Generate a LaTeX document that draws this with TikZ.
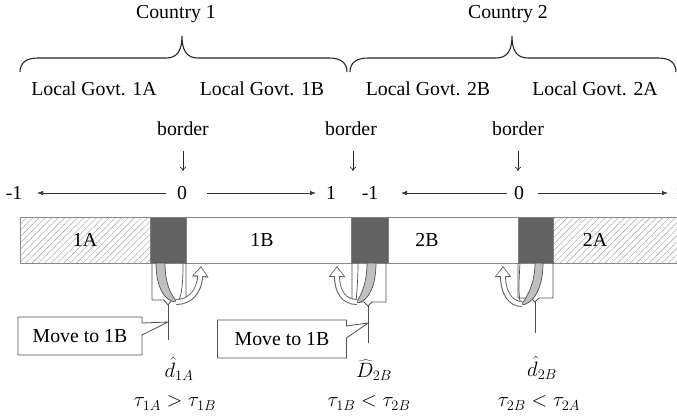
\documentclass[tikz,border=0pt]{standalone}
\usepackage{fontspec}
\setmainfont{Liberation Serif}
\usetikzlibrary{arrows.meta,patterns.meta,shapes.callouts}
\definecolor{lineg}{HTML}{505050}
\definecolor{barg}{HTML}{8A8A8A}
\definecolor{darkg}{HTML}{626262}
\newcommand{\cbrace}[3]{%
  \draw[bracestyle] (#1,72) .. controls (#1,63) and ({#1+6},58) .. ({#1+18},58)
    -- ({#2-16},58) .. controls ({#2-5},58) and (#2,51) .. (#2,36)
    .. controls (#2,51) and ({#2+5},58) .. ({#2+16},58)
    -- ({#3-18},58) .. controls ({#3-6},58) and (#3,63) .. (#3,72);}
\tikzset{
  txt/.style={inner sep=0pt, font=\fontsize{19.8}{23}\selectfont},
  mth/.style={inner sep=0pt, font=\fontsize{21.5}{25}\selectfont},
  bracestyle/.style={draw=black!85, line width=1.1pt},
  numarrow/.style={draw=black!80, line width=0.7pt, -{Latex[length=6pt,width=4.5pt]}},
  bordarrow/.style={draw=black!85, line width=0.7pt, -{To[length=4pt,width=6pt]}},
  barbox/.style={draw=barg, line width=1pt},
  hatchbox/.style={barbox, pattern={Lines[angle=45,distance=4.5pt,line width=0.6pt]}, pattern color=black!30},
  darkbox/.style={draw=black!50, line width=0.6pt, fill=darkg},
  brkt/.style={draw=lineg, line width=0.8pt},
  crescent/.style={draw=lineg, line width=0.7pt, fill=black!25},
  uarm/.style={draw=lineg, line width=0.7pt},
  wouter/.style={draw=black!60, line width=6pt, -{Triangle[width=16pt,length=11pt]}},
  winner/.style={draw=white, line width=4pt, shorten >=1.6pt, -{Triangle[width=12.5pt,length=8.2pt]}},
  callbox/.style={txt, rectangle callout, draw=lineg, line width=0.8pt, fill=white,
    minimum height=38pt, callout pointer width=12pt}
}
\begin{document}
\begin{tikzpicture}[x=1pt,y=-1pt]
\useasboundingbox (0,0) rectangle (677,416);

% top labels and braces
\node[txt] (c1) at (176,14) {Country 1};
\node[txt] (c2) at (508,14) {Country 2};
\cbrace{20}{182}{347}
\cbrace{350}{512}{676}
\node[txt] (g1a) at (94,89) {Local Govt. 1A};
\node[txt] (g1b) at (262,89) {Local Govt. 1B};
\node[txt] (g2b) at (428,89) {Local Govt. 2B};
\node[txt] (g2a) at (595,89) {Local Govt. 2A};

% borders
\node[txt] (b1) at (183,129) {border};
\node[txt] (b2) at (351,129) {border};
\node[txt] (b3) at (518,129) {border};
\coordinate (b1s) at (183,151); \coordinate (b1e) at (183,171);
\coordinate (b2s) at (353,151); \coordinate (b2e) at (353,171);
\coordinate (b3s) at (518,151); \coordinate (b3e) at (518,171);
\draw[bordarrow] (b1s) -- (b1e);
\draw[bordarrow] (b2s) -- (b2e);
\draw[bordarrow] (b3s) -- (b3e);

% number lines
\node[txt] (m1) at (14,193) {-1};
\node[txt] (z1) at (182,193) {0};
\node[txt] (p1) at (331,193) {1};
\node[txt] (m2) at (370,193) {-1};
\node[txt] (z2) at (519,193) {0};
\node[txt] (p2) at (680,193) {1};
\coordinate (l1s) at (166,193); \coordinate (l1e) at (37,193);
\coordinate (r1s) at (207,193); \coordinate (r1e) at (316,193);
\coordinate (l2s) at (507,193); \coordinate (l2e) at (401,193);
\coordinate (r2s) at (538,193); \coordinate (r2e) at (668,193);
\draw[numarrow] (l1s) -- (l1e);
\draw[numarrow] (r1s) -- (r1e);
\draw[numarrow] (l2s) -- (l2e);
\draw[numarrow] (r2s) -- (r2e);

% bar
\draw[barbox] (20,217) rectangle (690,263);
\draw[hatchbox] (20,217) rectangle (150,263);
\draw[hatchbox] (553,217) rectangle (690,263);
\draw[darkbox] (150,217) rectangle (186,263);
\draw[darkbox] (351,217) rectangle (388,263);
\draw[darkbox] (518,217) rectangle (553,263);
\node[txt] (t1a) at (85,240) {1A};
\node[txt] (t1b) at (262,240) {1B};
\node[txt] (t2b) at (427,240) {2B};
\node[txt] (t2a) at (595,240) {2A};

% unit 1
\draw[brkt] (152,263) -- (152,300) -- (164,300) -- (168,305) -- (172,300) -- (186,300) -- (186,263);
\coordinate (s1a) at (168,305); \coordinate (s1b) at (168,340);
\draw[brkt] (s1a) -- (s1b);
\draw[crescent] (156,263) .. controls (156,288) and (165,302) .. (177,302)
   .. controls (170,294) and (165,282) .. (165,263) -- cycle;
\draw[uarm] (177,302) .. controls (182,298) and (183,282) .. (183,263);
\draw[wouter] (176,302) .. controls (190,302) and (199,292) .. (201,266);
\draw[winner] (176,302) .. controls (190,302) and (199,292) .. (201,266);

% unit 2
\draw[brkt] (352,263) -- (352,302) -- (364,302) -- (368,306) -- (372,302) -- (386,302) -- (386,263);
\coordinate (s2a) at (368,306); \coordinate (s2b) at (368,343);
\draw[brkt] (s2a) -- (s2b);
\draw[crescent] (376,263) .. controls (376,290) and (366,303) .. (356,303)
   .. controls (362,294) and (367,282) .. (367,263) -- cycle;
\draw[uarm] (356,303) .. controls (357,290) and (358,278) .. (358,263);
\draw[wouter] (357,302) .. controls (344,302) and (337,292) .. (337,266);
\draw[winner] (357,302) .. controls (344,302) and (337,292) .. (337,266);

% unit 3
\draw[brkt] (518,263) -- (518,298) -- (531,298) -- (535,302) -- (539,298) -- (553,298) -- (553,263);
\coordinate (s3a) at (535,302); \coordinate (s3b) at (535,333);
\draw[brkt] (s3a) -- (s3b);
\draw[crescent] (543,263) .. controls (543,290) and (532,305) .. (521,305)
   .. controls (528,296) and (535,282) .. (535,263) -- cycle;
\draw[uarm] (521,305) .. controls (518,296) and (519,280) .. (520,263);
\draw[wouter] (522,304) .. controls (510,304) and (503,292) .. (503,266);
\draw[winner] (522,304) .. controls (510,304) and (503,292) .. (503,266);

% callouts
\coordinate (q1) at (168,322);
\coordinate (q2) at (368,323);
\node[callbox, minimum width=124pt, callout absolute pointer={(q1)}] (mv1) at (80,336) {Move to 1B};
\node[callbox, minimum width=129pt, callout absolute pointer={(q2)}] (mv2) at (282,339) {Move to 1B};

% math labels
\node[mth] (d1) at (179,369) {$\hat{d}_{1A}$};
\node[mth] (d2) at (374,370) {$\widehat{D}_{2B}$};
\node[mth] (d3) at (542,368) {$\hat{d}_{2B}$};
\node[mth] (e1) at (175,403) {$\tau_{1A} > \tau_{1B}$};
\node[mth] (e2) at (369,403) {$\tau_{1B} < \tau_{2B}$};
\node[mth] (e3) at (539,403) {$\tau_{2B} < \tau_{2A}$};
\end{tikzpicture}
\end{document}
